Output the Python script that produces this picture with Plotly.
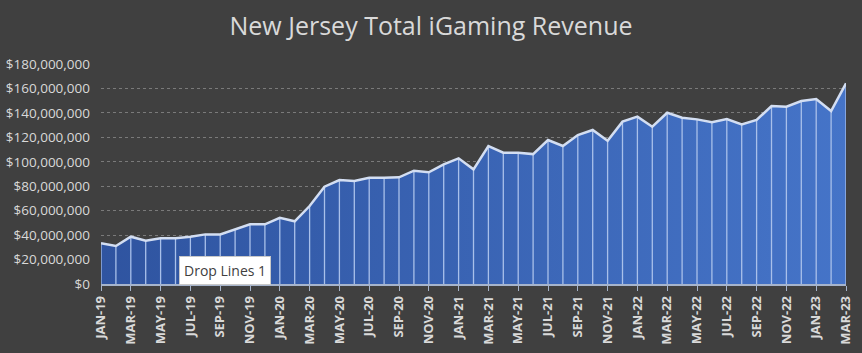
import plotly.graph_objects as go

months = ["JAN", "FEB", "MAR", "APR", "MAY", "JUN", "JUL", "AUG", "SEP", "OCT", "NOV", "DEC"]
years = ["19", "20", "21", "22", "23"]
categories = [f"{m}-{y}" for y in years for m in months][:51]

revenue = [
    33.3, 31.1, 38.7, 35.4, 37.4, 37.5, 38.7, 40.6, 40.6, 45.0, 48.8, 48.8,
    54.2, 51.3, 63.8, 79.6, 85.1, 84.3, 87.0, 87.0, 87.3, 92.7, 91.4, 97.9,
    102.8, 93.8, 112.9, 107.4, 107.4, 106.3, 117.8, 112.9, 121.9, 126.0, 117.2, 132.8,
    136.9, 128.7, 140.1, 136.0, 134.7, 132.3, 135.0, 130.6, 134.2, 145.6, 145.1, 149.7,
    151.3, 141.5, 164.2,
]
revenue = [v * 1e6 for v in revenue]

tick_labels = categories[::2]
tick_vals = tick_labels

y_ticks = list(range(0, 180_000_001, 20_000_000))
y_tick_text = [f"${v:,.0f}" for v in y_ticks]

# drop lines
drop_x, drop_y = [], []
for c, v in zip(categories, revenue):
    drop_x += [c, c, None]
    drop_y += [0, v, None]

FONT = "Open Sans, Liberation Sans, sans-serif"

fig = go.Figure()
fig.add_trace(go.Scatter(
    x=categories, y=revenue, mode="lines", fill="tozeroy",
    fillgradient=dict(type="horizontal",
                      colorscale=[[0, "#2f54a0"], [1, "#4574c8"]]),
    line=dict(color="rgba(0,0,0,0)", width=0),
    hoverinfo="skip", showlegend=False,
))
fig.add_trace(go.Scatter(
    x=drop_x, y=drop_y, mode="lines",
    line=dict(color="#a9c0ea", width=1.3),
    hoverinfo="skip", showlegend=False,
))
fig.add_trace(go.Scatter(
    x=categories, y=revenue, mode="lines",
    line=dict(color="#d3def2", width=2.5),
    showlegend=False,
))

fig.add_annotation(
    x=8.35, y=10_800_000, xref="x", yref="y",
    text="Drop Lines 1", showarrow=False,
    bgcolor="#ffffff", bordercolor="#c8c8c8", borderwidth=1, borderpad=4,
    font=dict(family=FONT, size=14, color="#404040"),
)

fig.update_layout(
    width=862, height=353,
    paper_bgcolor="#404040", plot_bgcolor="#404040",
    margin=dict(l=101, r=16, t=64, b=69, autoexpand=False),
    title=dict(text="New Jersey Total iGaming Revenue", x=0.5, xanchor="center",
               y=0.925, yanchor="middle",
               font=dict(family=FONT, size=25, color="#d9d9d9")),
    xaxis=dict(
        type="category", categoryorder="array", categoryarray=categories,
        range=[0, len(categories) - 1], automargin=False,
        tickmode="array", tickvals=tick_vals, ticktext=tick_labels,
        tickangle=-90, ticks="outside", ticklen=5, tickcolor="#a6b4cc",
        showline=True, linecolor="#a6b4cc", linewidth=1.5,
        showgrid=False, zeroline=False,
        tickfont=dict(family=FONT, size=13, color="#d9d9d9", weight="bold"),
    ),
    yaxis=dict(
        range=[0, 180_000_000], automargin=False,
        tickmode="array", tickvals=y_ticks, ticktext=y_tick_text,
        showgrid=True, gridcolor="#7a7a7a", griddash="dot", gridwidth=1,
        zeroline=False, showline=False, ticks="", ticklabelstandoff=10,
        tickfont=dict(family=FONT, size=13.5, color="#d9d9d9"),
    ),
)

fig.write_html("out.html")
